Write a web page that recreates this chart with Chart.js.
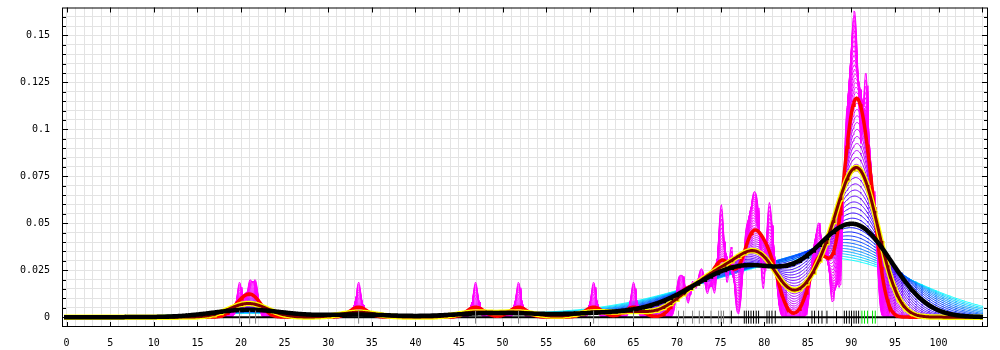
<!DOCTYPE html>
<html>
<head>
<meta charset="UTF-8">
<title>Kernel density estimates</title>
<script src="https://cdn.jsdelivr.net/npm/chart.js"></script>
<style>
  html, body { margin: 0; padding: 0; background: #fff; }
  #wrap { width: 1000px; height: 350px; }
</style>
</head>
<body>
<div id="wrap"><canvas id="kde" width="1000" height="350"></canvas></div>
<script>
const greyX  = [19.84, 20.99, 21.67, 33.49, 46.90, 51.83, 60.44, 65.02, 70.18, 70.76, 71.79, 72.56, 73.05, 73.90, 74.77, 75.08, 75.34];
const greyN  = [1, 1, 1, 1, 1, 1, 1, 1, 1, 1, 1, 1, 1, 1, 1, 2, 1];
const blackX = [76.23, 77.72, 77.95, 78.21, 78.49, 78.78, 79.09, 79.36, 80.32, 80.58, 80.89, 81.27,
                85.48, 85.78, 86.24, 86.63, 87.20, 88.30, 89.19, 89.45, 89.76, 90.02, 90.30, 90.56, 90.83];
const blackN = [2, 1, 1, 1, 1, 2, 1, 2, 1, 2, 1, 1, 1, 1, 2, 1, 2, 1, 2, 3, 2, 3, 4, 3, 3];
const greenX = [91.21, 91.51, 91.86, 92.43, 92.74];
const greenN = [1, 4, 4, 2, 2];

// bandwidths of the thin family (magenta -> blue -> cyan)
const familyBw = [0.285, 0.305, 0.327, 0.351, 0.376, 0.403, 0.432, 0.463, 0.496, 0.532,
                  0.570, 0.611, 0.655, 0.702, 0.752, 0.806, 0.864, 0.926, 0.992, 1.063,
                  1.140, 1.221, 1.309, 1.403, 1.504, 1.612, 1.727, 1.851, 1.984, 2.126,
                  2.279, 2.442, 2.617, 2.805, 3.007, 3.222, 3.453, 3.701, 3.967, 4.251,
                  4.556, 4.883, 5.234, 5.609, 6.012, 6.443, 6.905, 7.401, 7.932, 8.5];
// the three highlighted estimates
const redBw = 1.0;
const brownBw = 2.05;
const blackBw = 4.0;

const xLabels = [0, 5, 10, 15, 20, 25, 30, 35, 40, 45, 50, 55, 60, 65, 70, 75, 80, 85, 90, 95, 100];
const yLabels = [0, 0.025, 0.05, 0.075, 0.1, 0.125, 0.15];
const xFrom = -0.3, xTo = 105.1;

// ---- density estimates ----
const allX = greyX.concat(blackX, greenX);
const allN = greyN.concat(blackN, greenN);
const total = allN.reduce((a, b) => a + b, 0);
const gridX = [];
for (let i = 0; xFrom + i * 0.1 <= xTo + 1e-9; i++) gridX.push(+(xFrom + i * 0.1).toFixed(2));

function kde(h) {
  const c = 1 / (total * h * Math.sqrt(2 * Math.PI));
  return gridX.map(x => {
    let s = 0;
    for (let i = 0; i < allX.length; i++) {
      const u = (x - allX[i]) / h;
      s += allN[i] * Math.exp(-0.5 * u * u);
    }
    return { x: x, y: s * c };
  });
}

function famColor(h) {
  const t = Math.log(h / familyBw[0]) / Math.log(familyBw[familyBw.length - 1] / familyBw[0]);
  const hue = 300 - 120 * Math.pow(t, 3);
  return 'hsl(' + hue.toFixed(1) + ',100%,50%)';
}

const datasets = [];

// rug on top
function rug(xs, color) {
  return { type: 'scatter', data: xs.map(v => ({ x: v, y: 0 })), pointStyle: 'line', rotation: 90,
           pointRadius: 6.5, borderColor: color, borderWidth: 1, order: 0 };
}
datasets.push(rug(greyX, '#808080'), rug(blackX, '#000000'), rug(greenX, '#00e000'));

datasets.push({ data: kde(blackBw), borderColor: '#000000', borderWidth: 4.5, order: 1 });
datasets.push({ data: kde(brownBw), borderColor: '#800000', borderWidth: 3, order: 2 });
datasets.push({ data: kde(brownBw), borderColor: '#ffff00', borderWidth: 5.5, order: 3 });
datasets.push({ data: kde(redBw), borderColor: '#ff0000', borderWidth: 3.5, order: 4 });
datasets.push({ data: [{ x: xFrom, y: 0 }, { x: xTo, y: 0 }], borderColor: '#000000', borderWidth: 2, order: 5 });

familyBw.forEach((h, i) => {
  datasets.push({ data: kde(h), borderColor: famColor(h), borderWidth: 1, order: 10 + i });
});

// frame and inward tick marks
const frameTicks = {
  id: 'frameTicks',
  afterDraw(chart) {
    const { ctx, chartArea: a, scales: { x, y } } = chart;
    ctx.save();
    ctx.strokeStyle = '#000';
    ctx.lineWidth = 1;
    ctx.beginPath();
    xLabels.concat([105]).forEach(v => {
      const px = Math.round(x.getPixelForValue(v)) + 0.5;
      ctx.moveTo(px, a.top); ctx.lineTo(px, a.top + 5);
      ctx.moveTo(px, a.bottom); ctx.lineTo(px, a.bottom - 5);
    });
    for (let k = 0; k <= 32; k++) {
      const v = k * 0.005;
      const len = k % 5 === 0 ? 6 : 4;
      const py = Math.round(y.getPixelForValue(v)) + 0.5;
      ctx.moveTo(a.left, py); ctx.lineTo(a.left + len, py);
      ctx.moveTo(a.right, py); ctx.lineTo(a.right - len, py);
    }
    ctx.stroke();
    ctx.strokeRect(a.left + 0.5, a.top + 0.5, a.width - 1, a.height - 1);
    ctx.restore();
  }
};

const tickFont = { family: 'DejaVu Sans Mono', size: 10 };

new Chart(document.getElementById('kde'), {
  type: 'line',
  data: { datasets: datasets },
  options: {
    responsive: false,
    animation: false,
    events: [],
    parsing: false,
    normalized: true,
    layout: { padding: { top: 3, right: 12, left: 0, bottom: 0 } },
    plugins: { legend: { display: false }, tooltip: { enabled: false } },
    elements: { point: { radius: 0 }, line: { tension: 0, fill: false } },
    scales: {
      x: {
        type: 'linear', min: -0.53, max: 105.67,
        afterFit: s => { s.height = 23; s.paddingLeft = 0; s.paddingRight = 0; },
        border: { display: false },
        grid: { color: '#e3e3e3', drawTicks: false },
        ticks: {
          stepSize: 1, autoSkip: false, includeBounds: false, maxRotation: 0, padding: 10,
          font: tickFont, color: '#000',
          callback: v => xLabels.includes(v) ? String(v) : ''
        }
      },
      y: {
        type: 'linear', min: -0.00525, max: 0.1649,
        afterFit: s => { s.width = 62; s.paddingTop = 0; s.paddingBottom = 0; },
        border: { display: false },
        grid: { color: '#e3e3e3', drawTicks: false },
        ticks: {
          stepSize: 0.005, autoSkip: false, includeBounds: false, padding: 12,
          font: tickFont, color: '#000',
          callback: v => {
            const hit = yLabels.find(l => Math.abs(l - v) < 1e-7);
            return hit === undefined ? '' : String(hit);
          }
        }
      }
    }
  },
  plugins: [frameTicks]
});
</script>
</body>
</html>
